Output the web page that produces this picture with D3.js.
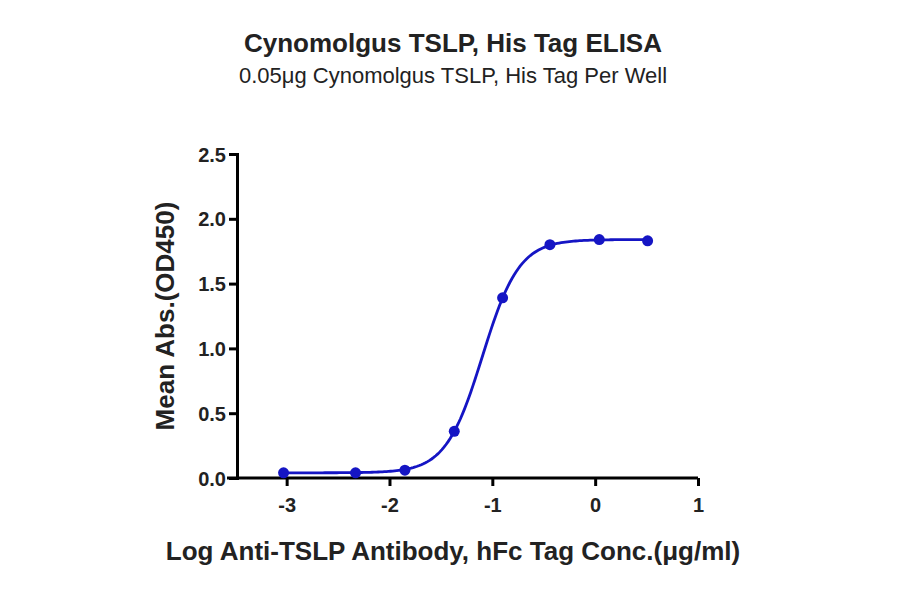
<!DOCTYPE html>
<html><head><meta charset="utf-8">
<script src="https://cdn.jsdelivr.net/npm/d3@7"></script>
<style>body{margin:0;background:#fff}text{font-family:"Liberation Sans",Arial,sans-serif}</style>
</head><body><svg id="c" width="900" height="594"></svg>
<script>
const logConc = [-3.03, -2.33, -1.85, -1.37, -0.90, -0.44, 0.04, 0.51];
const meanAbs = [0.04, 0.04, 0.06, 0.36, 1.39, 1.80, 1.84, 1.83];
const xTicks = [-3, -2, -1, 0, 1];
const yTicks = [0, 0.5, 1.0, 1.5, 2.0, 2.5];
// 4PL fit parameters
const fitBottom = 0.04, fitTop = 1.84, fitLogEC50 = -1.096, fitHill = 2.43;

const svg = d3.select("#c");
const x = d3.scaleLinear().domain([-3.58, 1]).range([227, 698]);
const y = d3.scaleLinear().domain([0, 2.5]).range([478, 154]);
const col = "#1515c4";

const xa = svg.append("g").attr("transform","translate(0,478)")
  .call(d3.axisBottom(x).tickValues(xTicks).tickSize(8).tickFormat(d=>String(d)));
const ya = svg.append("g").attr("transform","translate(237,0)")
  .call(d3.axisLeft(y).tickValues(yTicks).tickSize(8).tickFormat(d3.format(".1f")));
[xa, ya].forEach(a=>{
  a.select(".domain").attr("stroke","#000").attr("stroke-width",3);
  a.selectAll(".tick line").attr("stroke","#000").attr("stroke-width",3);
  a.selectAll("text").attr("fill","#222").style("font-size","20px").style("font-weight","bold");
});
xa.select(".domain").attr("d","M227,0H698");
xa.selectAll(".tick text").attr("dy","1.15em");
ya.selectAll(".tick text").attr("dy","0.35em");

const f = v => fitBottom + (fitTop - fitBottom) / (1 + Math.pow(10, (fitLogEC50 - v) * fitHill));
const xs = d3.range(logConc[0], logConc[logConc.length-1] + 0.001, 0.02);
svg.append("path").datum(xs)
  .attr("d", d3.line().x(v=>x(v)).y(v=>y(f(v))))
  .attr("fill","none").attr("stroke",col).attr("stroke-width",2.8);
svg.selectAll("circle.p").data(logConc).enter().append("circle")
  .attr("cx",(d)=>x(d)).attr("cy",(d,i)=>y(meanAbs[i])).attr("r",5.5).attr("fill",col);

svg.append("text").attr("x",453).attr("y",52).attr("text-anchor","middle")
  .style("font-size","26px").style("font-weight","bold").attr("fill","#222")
  .text("Cynomolgus TSLP, His Tag ELISA");
svg.append("text").attr("x",453).attr("y",83).attr("text-anchor","middle")
  .style("font-size","22px").attr("fill","#222")
  .text("0.05μg Cynomolgus TSLP, His Tag Per Well");
svg.append("text").attr("x",453).attr("y",560).attr("text-anchor","middle")
  .style("font-size","26px").style("font-weight","bold").attr("fill","#222")
  .text("Log Anti-TSLP Antibody, hFc Tag Conc.(μg/ml)");
svg.append("text").attr("transform","translate(174,316) rotate(-90)").attr("text-anchor","middle")
  .style("font-size","26px").style("font-weight","bold").attr("fill","#222")
  .text("Mean Abs.(OD450)");
</script></body></html>
